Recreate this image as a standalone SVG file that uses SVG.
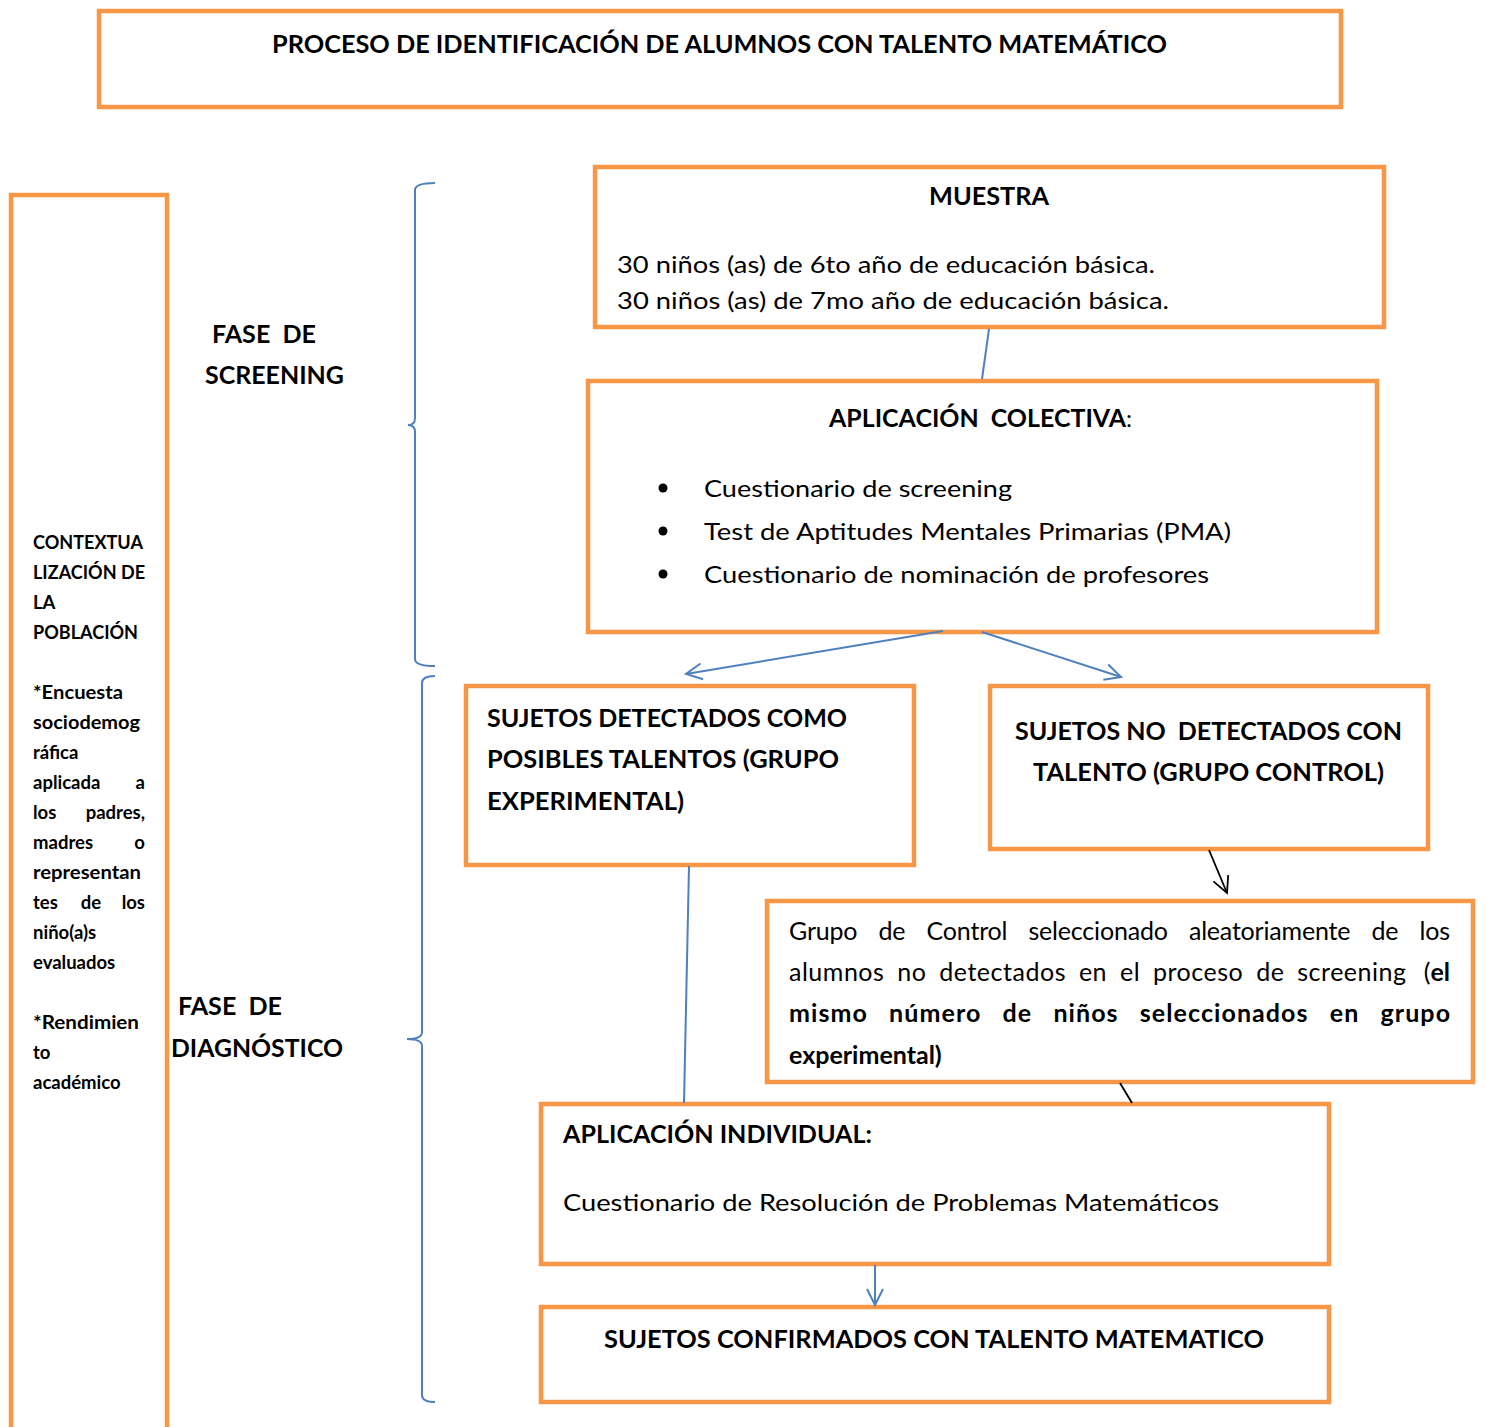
<svg xmlns="http://www.w3.org/2000/svg" width="1486" height="1427" viewBox="0 0 1486 1427">
<style>
.box{fill:#fff;stroke:#F79646;stroke-width:4.5}
.t{font-family:Lato,"Liberation Sans",sans-serif;fill:#000}
.b{font-weight:bold}
.s25{font-size:24px}
.s26{font-size:25px}
.s18{font-size:18.5px}
.con{stroke:#4F81BD;stroke-width:2;fill:none}
.blk{stroke:#000;stroke-width:1.8;fill:none}
</style>
<defs>
<marker id="ab" markerUnits="userSpaceOnUse" markerWidth="20" markerHeight="20" viewBox="0 0 20 20" refX="18" refY="10" orient="auto">
<path d="M2,2 L18,10 L2,18" fill="none" stroke="#4F81BD" stroke-width="2"/>
</marker>
<marker id="ak" markerUnits="userSpaceOnUse" markerWidth="20" markerHeight="20" viewBox="0 0 20 20" refX="18" refY="10" orient="auto">
<path d="M2,2 L18,10 L2,18" fill="none" stroke="#000" stroke-width="1.8"/>
</marker>
</defs>
<rect width="1486" height="1427" fill="#fff"/>

<g id="title">
<rect class="box" x="99" y="11" width="1242" height="96"/>
<text class="t b s25" x="272" y="53" textLength="895" lengthAdjust="spacingAndGlyphs">PROCESO DE IDENTIFICACIÓN DE ALUMNOS CON TALENTO MATEMÁTICO</text>
</g>

<g id="contexto">
<path d="M11,1427 V195 H167 V1427" fill="none" stroke="#F79646" stroke-width="4.5"/>
<g class="t b s18">
<text x="33" y="549" textLength="110" lengthAdjust="spacingAndGlyphs">CONTEXTUA</text>
<text x="33" y="579" textLength="112" lengthAdjust="spacingAndGlyphs">LIZACIÓN DE</text>
<text x="33" y="609">LA</text>
<text x="33" y="639" textLength="105" lengthAdjust="spacingAndGlyphs">POBLACIÓN</text>
<text x="33" y="699" textLength="90" lengthAdjust="spacingAndGlyphs">*Encuesta</text>
<text x="33" y="729" textLength="107" lengthAdjust="spacingAndGlyphs">sociodemog</text>
<text x="33" y="759">ráfica</text>
<text x="33" y="789">aplicada</text><text x="145" y="789" text-anchor="end">a</text>
<text x="33" y="819">los</text><text x="145" y="819" text-anchor="end">padres,</text>
<text x="33" y="849">madres</text><text x="145" y="849" text-anchor="end">o</text>
<text x="33" y="879" textLength="108" lengthAdjust="spacingAndGlyphs">representan</text>
<text x="33" y="909">tes</text><text x="91" y="909" text-anchor="middle">de</text><text x="145" y="909" text-anchor="end">los</text>
<text x="33" y="939">niño(a)s</text>
<text x="33" y="969">evaluados</text>
<text x="33" y="1029" textLength="106" lengthAdjust="spacingAndGlyphs">*Rendimien</text>
<text x="33" y="1059">to</text>
<text x="33" y="1089">académico</text>
</g>
</g>

<g id="fases">
<text class="t b s25" x="212" y="343" textLength="104" lengthAdjust="spacingAndGlyphs">FASE&#160;&#160;DE</text>
<text class="t b s25" x="205" y="384" textLength="139" lengthAdjust="spacingAndGlyphs">SCREENING</text>
<text class="t b s25" x="178" y="1015" textLength="104" lengthAdjust="spacingAndGlyphs">FASE&#160;&#160;DE</text>
<text class="t b s25" x="171" y="1057" textLength="172" lengthAdjust="spacingAndGlyphs">DIAGNÓSTICO</text>
</g>

<g id="braces" class="con">
<path d="M435,183 Q415,183 415,190 V418 Q415,425 408,425 Q415,425 415,432 V659 Q415,666 435,666"/>
<path d="M435,676 Q422,676 422,683 V1032 Q422,1039 407,1039 Q422,1039 422,1046 V1395 Q422,1402 435,1402"/>
</g>

<g id="muestra">
<rect class="box" x="595" y="167" width="789" height="160"/>
<text class="t b s25" x="929" y="205" textLength="120" lengthAdjust="spacingAndGlyphs">MUESTRA</text>
<text class="t s25" x="617" y="273" textLength="538" lengthAdjust="spacingAndGlyphs">30 niños (as) de 6to año de educación básica.</text>
<text class="t s25" x="617" y="309" textLength="552" lengthAdjust="spacingAndGlyphs">30 niños (as) de 7mo año de educación básica.</text>
</g>

<g id="colectiva">
<rect class="box" x="588" y="381" width="789" height="251"/>
<text class="t b s25" x="829" y="427" textLength="297" lengthAdjust="spacingAndGlyphs">APLICACIÓN&#160;&#160;COLECTIVA</text>
<text class="t s25" x="1126" y="427">:</text>
<circle cx="663" cy="488" r="4.5"/>
<circle cx="663" cy="531" r="4.5"/>
<circle cx="663" cy="574" r="4.5"/>
<text class="t s25" x="704" y="497" textLength="308" lengthAdjust="spacingAndGlyphs">Cuestionario de screening</text>
<text class="t s25" x="704" y="540" textLength="527" lengthAdjust="spacingAndGlyphs">Test de Aptitudes Mentales Primarias (PMA)</text>
<text class="t s25" x="704" y="583" textLength="505" lengthAdjust="spacingAndGlyphs">Cuestionario de nominación de profesores</text>
</g>

<g id="detectados">
<rect class="box" x="466" y="686" width="448" height="179"/>
<text class="t b s25" x="487" y="727" textLength="360" lengthAdjust="spacingAndGlyphs">SUJETOS DETECTADOS COMO</text>
<text class="t b s25" x="487" y="768" textLength="352" lengthAdjust="spacingAndGlyphs">POSIBLES TALENTOS (GRUPO</text>
<text class="t b s25" x="487" y="810" textLength="197" lengthAdjust="spacingAndGlyphs">EXPERIMENTAL)</text>
</g>

<g id="nodetectados">
<rect class="box" x="990" y="686" width="438" height="163"/>
<text class="t b s25" x="1015" y="740" textLength="387" lengthAdjust="spacingAndGlyphs">SUJETOS NO&#160;&#160;DETECTADOS CON</text>
<text class="t b s25" x="1033" y="781" textLength="351" lengthAdjust="spacingAndGlyphs">TALENTO (GRUPO CONTROL)</text>
</g>

<g id="grupocontrol">
<rect class="box" x="767" y="901" width="706" height="181"/>
<text class="t s26" x="789" y="940" word-spacing="15" textLength="661" lengthAdjust="spacing">Grupo de Control seleccionado aleatoriamente de los</text>
<text class="t s26" x="789" y="981" word-spacing="6" textLength="617" lengthAdjust="spacing">alumnos no detectados en el proceso de screening</text>
<text class="t s26" x="1450" y="981" text-anchor="end">(<tspan class="b">el</tspan></text>
<text class="t b s26" x="789" y="1022" word-spacing="14" textLength="661" lengthAdjust="spacing">mismo número de niños seleccionados en grupo</text>
<text class="t b s26" x="789" y="1064">experimental)</text>
</g>

<g id="individual">
<rect class="box" x="541" y="1104" width="788" height="160"/>
<text class="t b s25" x="563" y="1143" textLength="309" lengthAdjust="spacingAndGlyphs">APLICACIÓN INDIVIDUAL:</text>
<text class="t s25" x="563" y="1211" textLength="656" lengthAdjust="spacingAndGlyphs">Cuestionario de Resolución de Problemas Matemáticos</text>
</g>

<g id="confirmados">
<rect class="box" x="541" y="1307" width="788" height="95"/>
<text class="t b s25" x="604" y="1348" textLength="660" lengthAdjust="spacingAndGlyphs">SUJETOS CONFIRMADOS CON TALENTO MATEMATICO</text>
</g>

<g id="connectors">
<line class="con" x1="989" y1="329" x2="982" y2="379"/>
<line class="con" x1="943" y1="631" x2="686" y2="674" marker-end="url(#ab)"/>
<line class="con" x1="982" y1="632" x2="1121" y2="677" marker-end="url(#ab)"/>
<line class="blk" x1="1209" y1="850" x2="1227" y2="893" marker-end="url(#ak)"/>
<line class="blk" x1="1120" y1="1083" x2="1132" y2="1103"/>
<line class="con" x1="689" y1="866" x2="684" y2="1103"/>
<line class="con" x1="875" y1="1265" x2="875" y2="1305" marker-end="url(#ab)"/>
</g>
</svg>
